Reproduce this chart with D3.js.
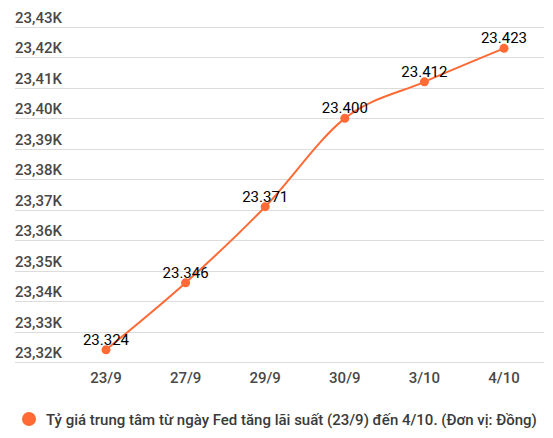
<!DOCTYPE html>
<html>
<head>
<meta charset="utf-8">
<script src="https://cdn.jsdelivr.net/npm/d3@7"></script>
<style>
  body { margin: 0; background: #fff; }
  text { font-family: Roboto, "Noto Sans", sans-serif; }
</style>
</head>
<body>
<div id="chart"></div>
<script>
var days = ["23/9", "27/9", "29/9", "30/9", "3/10", "4/10"];
var rates = [23324, 23346, 23371, 23400, 23412, 23423];
var yTicks = [23320, 23330, 23340, 23350, 23360, 23370, 23380, 23390, 23400, 23410, 23420, 23430];
var seriesName = "Tỷ giá trung tâm từ ngày Fed tăng lãi suất (23/9) đến 4/10. (Đơn vị: Đồng)";

var width = 553, height = 438;
var orange = "#ff6a35";

var svg = d3.select("#chart").append("svg")
    .attr("width", width)
    .attr("height", height);

var x = d3.scalePoint()
    .domain(days)
    .range([106, 504]);

var y = d3.scaleLinear()
    .domain([23320, 23430])
    .range([362, 27]);

// gridlines + y labels
var grid = svg.append("g");
grid.selectAll("line")
    .data(yTicks)
  .enter().append("line")
    .attr("x1", 15)
    .attr("x2", 544)
    .attr("y1", function(d) { return Math.round(y(d)) + 0.5; })
    .attr("y2", function(d) { return Math.round(y(d)) + 0.5; })
    .attr("stroke", "#dcdcdc")
    .attr("stroke-width", 1);
grid.selectAll("text")
    .data(yTicks)
  .enter().append("text")
    .attr("x", 15)
    .attr("y", function(d) { return y(d) - 4; })
    .attr("font-size", 15)
    .attr("font-weight", 500)
    .attr("fill", "#484848")
    .text(function(d) { return d3.format(".2f")(d / 1000).replace(".", ",") + "K"; });

// x labels
svg.append("g").selectAll("text")
    .data(days)
  .enter().append("text")
    .attr("x", function(d) { return x(d); })
    .attr("y", 383)
    .attr("text-anchor", "middle")
    .attr("font-size", 15)
    .attr("font-weight", 500)
    .attr("fill", "#484848")
    .text(function(d) { return d; });

var line = d3.line()
    .x(function(d, i) { return x(days[i]); })
    .y(function(d) { return y(d); })
    .curve(d3.curveMonotoneX);

svg.append("path")
    .datum(rates)
    .attr("d", line)
    .attr("fill", "none")
    .attr("stroke", orange)
    .attr("stroke-width", 2);

svg.append("g").selectAll("circle")
    .data(rates)
  .enter().append("circle")
    .attr("cx", function(d, i) { return x(days[i]); })
    .attr("cy", function(d) { return y(d); })
    .attr("r", 4.5)
    .attr("fill", orange);

svg.append("g").selectAll("text")
    .data(rates)
  .enter().append("text")
    .attr("x", function(d, i) { return x(days[i]); })
    .attr("y", function(d) { return y(d) - 5; })
    .attr("text-anchor", "middle")
    .attr("font-size", 15)
    .attr("fill", "#000")
    .text(function(d) { return d3.format(",")(d).replace(",", "."); });

// legend
var legend = svg.append("g");
legend.append("circle")
    .attr("cx", 29)
    .attr("cy", 419)
    .attr("r", 7)
    .attr("fill", orange);
legend.append("text")
    .attr("x", 46)
    .attr("y", 424.5)
    .attr("font-size", 15)
    .attr("font-weight", 500)
    .attr("fill", "#3a3a3a")
    .text(seriesName);
</script>
</body>
</html>
